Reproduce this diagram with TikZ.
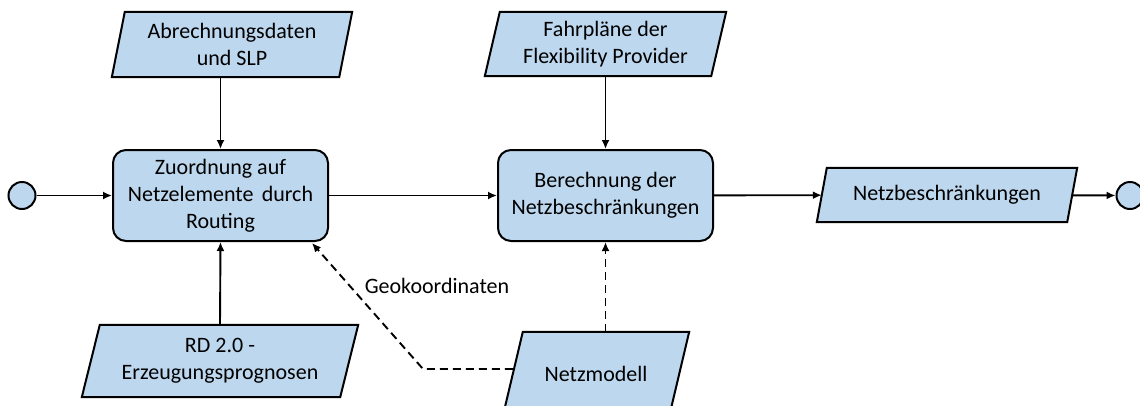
\documentclass[tikz,border=0pt]{standalone}
\usepackage{fontspec}
\setmainfont{Carlito}
\usetikzlibrary{arrows.meta,backgrounds}
\definecolor{boxfill}{RGB}{189,215,238}
\begin{document}
\begin{tikzpicture}[x=1pt,y=-1pt,
  font=\fontsize{22}{27}\selectfont,
  proc/.style={draw, line width=2pt, fill=boxfill, rounded corners=13pt,
    minimum width=215pt, minimum height=91pt, align=center, inner sep=0pt},
  iotext/.style 2 args={minimum width=#1, minimum height=#2, inner sep=0pt, align=center},
  iofill/.style={draw, line width=2pt, fill=boxfill, line join=miter},
  evt/.style={draw, line width=2pt, fill=boxfill, circle, minimum size=27pt, inner sep=0pt},
  arr/.style={line width=1.9pt, -{Latex[length=9pt,width=8pt]}},
  dsh/.style={dash pattern=on 8pt off 5pt}]
\useasboundingbox (0,0) rectangle (1140,405);

% events
\node[evt] (start) at (22,195.5) {};
\node[evt] (end) at (1130,195.5) {};

% processes
\node[proc] (box1) at (220.5,195.5) {Zuordnung auf\\Netzelemente\hspace{0.15em} durch\\Routing};
\node[proc] (box2) at (605.5,195.5) {Berechnung der\\Netzbeschränkungen};

% data (parallelograms)
\node[iotext={227pt}{65pt}] (pa) at (232,44.5) {Abrechnungsdaten\\und SLP};
\node[iotext={226pt}{64pt}] (pb) at (605.5,44) {Fahrpläne der\\Flexibility Provider};
\node[iotext={258pt}{72pt}] (rd) at (220,361) {RD 2.0 -\\Erzeugungsprognosen};
\node[iotext={166pt}{84pt}] (netz) at (596,374) {Netzmodell};
\node[iotext={250pt}{54pt}] (nb) at (947,195) {Netzbeschränkungen};

\begin{scope}[on background layer]
  \foreach \n/\s in {pa/13,pb/15,rd/18,netz/20,nb/10}{
    \draw[iofill] ([xshift=\s/2]\n.north west) -- ([xshift=\s/2]\n.north east)
      -- ([xshift=-\s/2]\n.south east) -- ([xshift=-\s/2]\n.south west) -- cycle;
  }
\end{scope}

% connectors
\draw[arr] (start) -- (box1);
\draw[arr] (pa.south -| box1.north) -- (box1.north);
\draw[arr] (rd.north) -- (box1.south);
\draw[arr] (box1) -- (box2);
\draw[arr] (pb.south) -- (box2.north);
\draw[arr] (box2) -- (nb);
\draw[arr] (nb) -- (end);
\draw[arr,dsh] (box2.south |- netz.north) -- (box2.south);
\coordinate (bend) at (423,369);
\coordinate (geoend) at ([xshift=-17pt,yshift=-1pt]box1.south east);
\draw[arr,dsh] (bend -| netz.west) -- (bend) -- (geoend);
\node[inner sep=0pt] (geo) at (437,286) {Geokoordinaten};
\end{tikzpicture}
\end{document}
